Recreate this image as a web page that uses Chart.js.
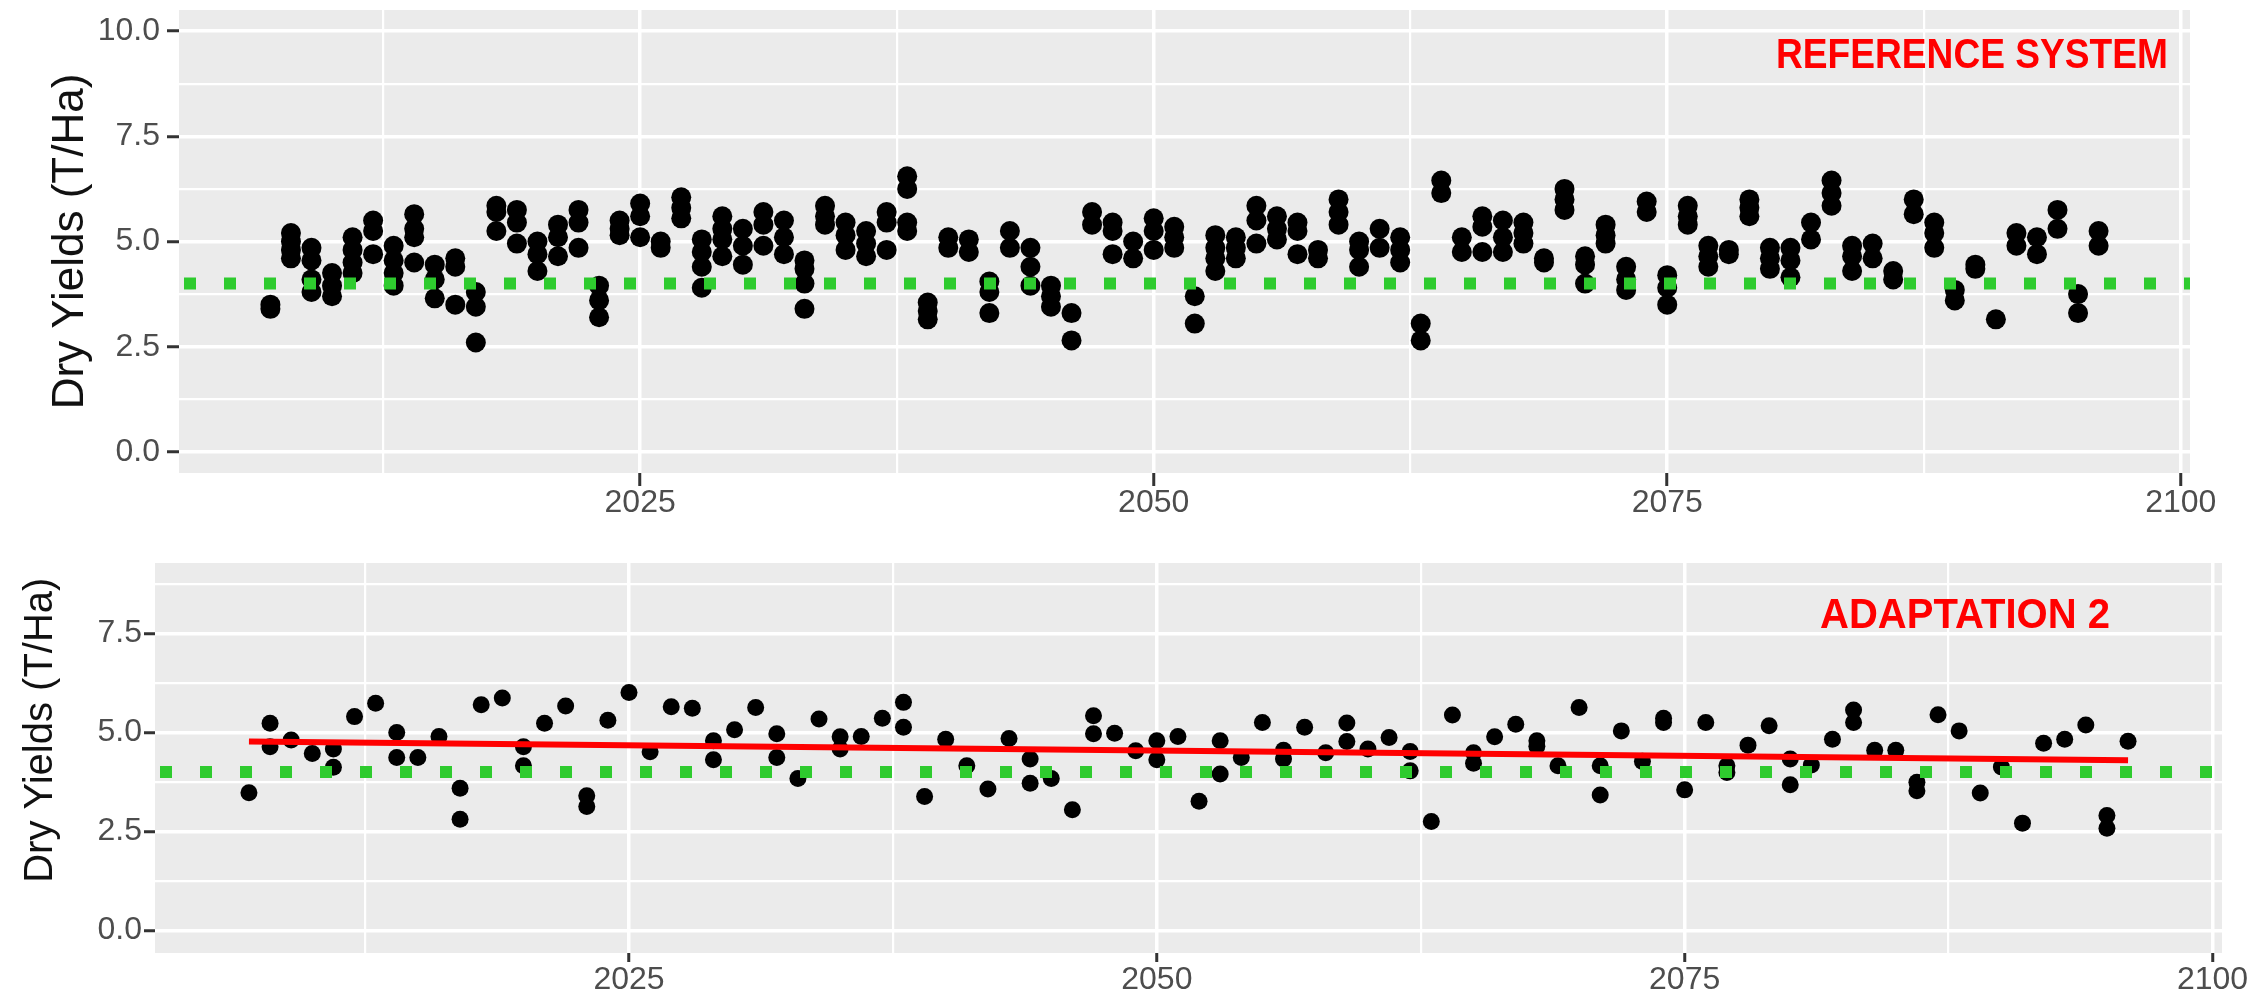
<!DOCTYPE html>
<html>
<head>
<meta charset="utf-8">
<title>Dry Yields</title>
<script src="https://cdn.jsdelivr.net/npm/chart.js@4.4.0/dist/chart.umd.min.js"></script>
<style>
  body { margin: 0; background: #ffffff; }
  #wrap { position: relative; width: 2267px; height: 997px; }
  canvas { position: absolute; left: 0; }
  #top { top: 0; }
  #bottom { top: 520px; }
</style>
</head>
<body>
<div id="wrap">
  <canvas id="top" width="2267" height="520"></canvas>
  <canvas id="bottom" width="2267" height="477"></canvas>
</div>
<script>
// Years on the x axis (same for both panels)
const years = [
  2007, 2008, 2009, 2010, 2011, 2012, 2013, 2014, 2015, 2016,
  2017, 2018, 2019, 2020, 2021, 2022, 2023, 2024, 2025, 2026,
  2027, 2028, 2029, 2030, 2031, 2032, 2033, 2034, 2035, 2036,
  2037, 2038, 2039, 2040, 2041, 2042, 2043, 2044, 2045, 2046,
  2047, 2048, 2049, 2050, 2051, 2052, 2053, 2054, 2055, 2056,
  2057, 2058, 2059, 2060, 2061, 2062, 2063, 2064, 2065, 2066,
  2067, 2068, 2069, 2070, 2071, 2072, 2073, 2074, 2075, 2076,
  2077, 2078, 2079, 2080, 2081, 2082, 2083, 2084, 2085, 2086,
  2087, 2088, 2089, 2090, 2091, 2092, 2093, 2094, 2095, 2096
];

// Reference system: several yields per year (T/Ha)
const refYields = [
  [3.5, 3.4], [5.2, 5.0, 4.8, 4.6], [4.85, 4.55, 4.1, 3.8], [4.25, 3.95, 3.7], [5.1, 4.8, 4.5, 4.25],
  [5.5, 5.25, 4.7], [4.9, 4.55, 4.25, 3.95], [5.65, 5.3, 5.1, 4.5], [4.45, 4.1, 3.65], [4.6, 4.4, 3.5],
  [3.8, 3.45, 2.6], [5.85, 5.7, 5.25], [5.75, 5.45, 4.95], [5.0, 4.7, 4.3], [5.4, 5.1, 4.65],
  [5.75, 5.45, 4.85], [3.95, 3.6, 3.2], [5.5, 5.3, 5.15], [5.9, 5.6, 5.1], [5.0, 4.85],
  [6.05, 5.8, 5.55], [5.05, 4.75, 4.4, 3.9], [5.6, 5.3, 5.05, 4.65], [5.3, 4.9, 4.45], [5.7, 5.4, 4.9],
  [5.5, 5.1, 4.7], [4.55, 4.35, 4.0, 3.4], [5.85, 5.6, 5.4], [5.45, 5.15, 4.8], [5.25, 4.95, 4.65],
  [5.7, 5.45, 4.8], [6.55, 6.25, 5.45, 5.25], [3.55, 3.35, 3.15], [5.1, 4.85], [5.05, 4.75],
  [4.05, 3.8, 3.3], [5.25, 4.85], [4.85, 4.4, 3.95], [3.95, 3.7, 3.45], [3.3, 2.65],
  [5.7, 5.4], [5.45, 5.25, 4.7], [5.0, 4.6], [5.55, 5.25, 4.8], [5.35, 5.1, 4.85],
  [3.7, 3.05], [5.15, 4.85, 4.6, 4.3], [5.1, 4.85, 4.6], [5.85, 5.5, 4.95], [5.6, 5.3, 5.05],
  [5.45, 5.25, 4.7], [4.8, 4.6], [6.0, 5.7, 5.4], [5.0, 4.8, 4.4], [5.3, 4.85],
  [5.1, 4.8, 4.5], [3.05, 2.65], [6.45, 6.15], [5.1, 4.75], [5.6, 5.35, 4.75],
  [5.5, 5.1, 4.75], [5.45, 5.2, 4.95], [4.6, 4.5], [6.25, 6.0, 5.75], [4.65, 4.45, 4.0],
  [5.4, 5.15, 4.95], [4.4, 4.1, 3.85], [5.95, 5.7], [4.2, 3.9, 3.5], [5.85, 5.6, 5.4],
  [4.9, 4.65, 4.4], [4.8, 4.7], [6.0, 5.8, 5.6], [4.85, 4.6, 4.35], [4.85, 4.55, 4.15],
  [5.45, 5.05], [6.45, 6.15, 5.85], [4.9, 4.65, 4.3], [4.95, 4.6], [4.3, 4.1],
  [6.0, 5.65], [5.45, 5.2, 4.85], [3.85, 3.6], [4.45, 4.35], [3.15],
  [5.2, 4.9], [5.1, 4.7], [5.75, 5.3], [3.75, 3.3], [5.25, 4.9]
];

// Adaptation 2: one or two yields per year (T/Ha)
const adaptYields = [
  [3.48], [5.23, 4.64], [4.81], [4.47], [4.58, 4.12], [5.40], [5.74], [5.0, 4.37], [4.37], [4.90],
  [3.59, 2.81], [5.70], [5.87], [4.64, 4.16], [5.23], [5.67], [3.40, 3.13], [5.31], [6.01], [4.51],
  [5.65], [5.61], [4.79, 4.31], [5.07], [5.63], [4.97, 4.37], [3.84], [5.34], [4.89, 4.58], [4.90],
  [5.36], [5.76, 5.13], [3.38], [4.83], [4.16], [3.57], [4.85], [4.33, 3.72], [3.84], [3.05],
  [5.42, 4.97], [4.98], [4.54], [4.79, 4.31], [4.90], [3.26], [4.79, 3.95], [4.37], [5.25], [4.55, 4.33],
  [5.13], [4.49], [5.24, 4.77], [4.58], [4.87], [4.52, 4.03], [2.75], [5.44], [4.49, 4.22], [4.89],
  [5.21], [4.79, 4.65], [4.16], [5.63], [4.16, 3.42], [5.04], [4.27], [5.36, 5.25], [3.55], [5.25],
  [4.16, 3.99], [4.68], [5.17], [4.33, 3.68], [4.18], [4.83], [5.57, 5.25], [4.55], [4.55], [3.74, 3.53],
  [5.45], [5.04], [3.47], [4.13], [2.71], [4.73], [4.83], [5.19], [2.90, 2.58], [4.78]
];

// Linear trend drawn on the adaptation panel (end points)
const trendYears = [2007, 2096];
const trendYields = [4.77, 4.30];

// Threshold yield (dotted green line)
const thresholdYield = 4.0;

// Axes
const xRange = [2002.55, 2100.45];
const xMajor = [2025, 2050, 2075, 2100];
const xMinor = [2012.5, 2037.5, 2062.5, 2087.5];
const refYRange = [-0.5, 10.5];
const refYMajor = [0, 2.5, 5, 7.5, 10];
const adaptYRange = [-0.57, 9.28];
const adaptYMajor = [0, 2.5, 5, 7.5];
const yMinor = [1.25, 3.75, 6.25, 8.75];

Chart.defaults.font.family = '"Liberation Sans", Arial, Helvetica, sans-serif';

function toPoints(xs, yieldLists) {
    var pts = [];
    xs.forEach(function(yr, i){
        yieldLists[i].forEach(function(v){
            pts.push({x: yr, y: v});
        });
    });
    return pts;
}

function axis(range, major, minor, fmt, o){
    var all = major.concat(minor).sort(function(a, b){ return a - b; });
    var isMajor = function(c){ return c.tick && major.indexOf(c.tick.value) >= 0; };
    return {
        type: 'linear',
        min: range[0],
        max: range[1],
        afterBuildTicks: function(s){
            s.ticks = all.map(function(v){ return {value: v}; });
        },
        afterFit: function(s){
            if (s.isHorizontal()) {
                s.height = o.size;
                s.paddingLeft = 0;
                s.paddingRight = 0;
            } else {
                s.width = o.size;
                s.paddingTop = 0;
                s.paddingBottom = 0;
            }
        },
        border: {display: false},
        grid: {
            color: '#ffffff',
            lineWidth: function(c){ return isMajor(c) ? 3.5 : 2.2; },
            tickColor: function(c){ return isMajor(c) ? '#333333' : 'rgba(0,0,0,0)'; },
            tickWidth: 3,
            tickLength: o.tick
        },
        ticks: {
            autoSkip: false,
            maxRotation: 0,
            padding: o.pad,
            color: '#4d4d4d',
            font: {size: 32, lineHeight: 1},
            callback: function(v){ return major.indexOf(v) >= 0 ? fmt(v) : ''; }
        },
        title: o.title || {display: false}
    };
}

var panelBg = {
    id: 'panelBg',
    beforeDraw: function(chart){
        var a = chart.chartArea, c = chart.ctx;
        c.save();
        c.fillStyle = '#ebebeb';
        c.fillRect(a.left, a.top, a.right - a.left, a.bottom - a.top);
        c.restore();
    }
};

function panelLabel(text, fromRight, baseline, width){
    return {
        id: 'panelLabel',
        afterDraw: function(chart){
            var a = chart.chartArea, c = chart.ctx;
            c.save();
            c.font = 'bold 42px "Liberation Sans", Arial, sans-serif';
            c.fillStyle = '#ff0000';
            c.textAlign = 'left';
            c.textBaseline = 'alphabetic';
            var w = c.measureText(text).width;
            c.translate(a.right - fromRight - width, a.top + baseline);
            c.scale(width / w, 1);
            c.fillText(text, 0, 0);
            c.restore();
        }
    };
}

function thresholdSet(){
    return {
        data: [{x: xRange[0], y: thresholdYield}, {x: xRange[1], y: thresholdYield}],
        showLine: true,
        borderColor: '#2ecb2e',
        borderWidth: 12,
        borderDash: [12, 28],
        borderDashOffset: -5,
        pointRadius: 0,
        order: 0
    };
}

function yieldSet(points, r){
    return {
        data: points,
        backgroundColor: '#000000',
        borderWidth: 0,
        pointRadius: r,
        pointHoverRadius: r,
        order: 2
    };
}

var yearFmt = function(v){ return String(v); };
var yieldFmt = function(v){ return v.toFixed(1); };

// Top panel: reference system
new Chart(document.getElementById('top').getContext('2d'), {
    type: 'scatter',
    data: {
        datasets: [
            thresholdSet(),
            yieldSet(toPoints(years, refYields), 10)
        ]
    },
    options: {
        responsive: false,
        animation: false,
        events: [],
        layout: {padding: {top: 7, right: 77, left: 0, bottom: 0}},
        plugins: {legend: {display: false}, tooltip: {enabled: false}},
        scales: {
            x: axis(xRange, xMajor, xMinor, yearFmt, {size: 47, tick: 13, pad: 1}),
            y: axis(refYRange, refYMajor, yMinor, yieldFmt, {
                size: 179, tick: 12, pad: 7,
                title: {display: true, text: 'Dry Yields (T/Ha)', color: '#111111',
                        font: {size: 44}, padding: {top: 44, bottom: 0}}
            })
        }
    },
    plugins: [panelBg, panelLabel('REFERENCE SYSTEM', 22, 58, 392)]
});

// Bottom panel: adaptation 2
new Chart(document.getElementById('bottom').getContext('2d'), {
    type: 'scatter',
    data: {
        datasets: [
            {
                data: trendYears.map(function(x, i){ return {x: x, y: trendYields[i]}; }),
                showLine: true,
                borderColor: '#ff0000',
                borderWidth: 6,
                pointRadius: 0,
                order: 0
            },
            thresholdSet(),
            yieldSet(toPoints(years, adaptYields), 8.5)
        ]
    },
    options: {
        responsive: false,
        animation: false,
        events: [],
        layout: {padding: {top: 43, right: 45, left: 0, bottom: 0}},
        plugins: {legend: {display: false}, tooltip: {enabled: false}},
        scales: {
            x: axis(xRange, xMajor, xMinor, yearFmt, {size: 44, tick: 9, pad: 2}),
            y: axis(adaptYRange, adaptYMajor, yMinor, yieldFmt, {
                size: 155, tick: 11, pad: 2,
                title: {display: true, text: '     Dry Yields (T/Ha)', color: '#111111',
                        font: {size: 40}, padding: {top: 17, bottom: 0}}
            })
        }
    },
    plugins: [panelBg, panelLabel('ADAPTATION 2', 112, 65, 290)]
});
</script>
</body>
</html>
